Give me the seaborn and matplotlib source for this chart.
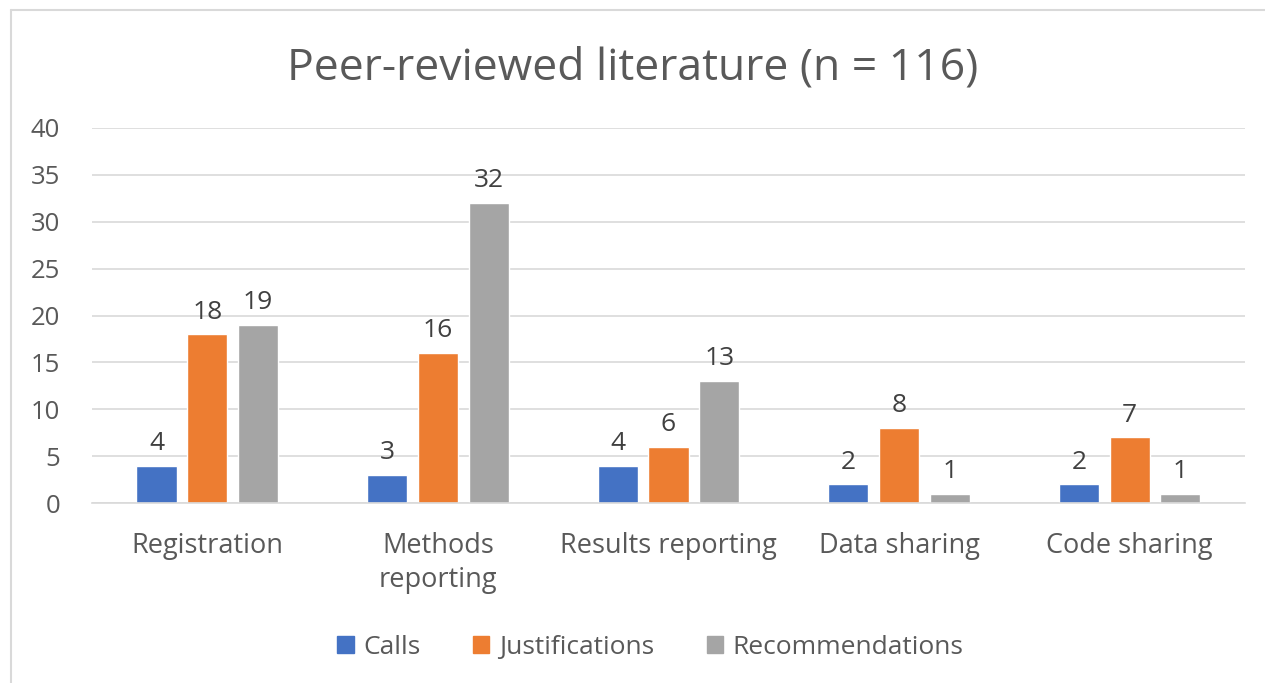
import pandas as pd
import seaborn as sns
from matplotlib import pyplot as plt
from matplotlib.lines import Line2D

categories = ['Registration', 'Methods\nreporting', 'Results reporting', 'Data sharing', 'Code sharing']
series = ['Calls', 'Justifications', 'Recommendations']
calls = [4, 3, 4, 2, 2]
justifications = [18, 16, 6, 8, 7]
recommendations = [19, 32, 13, 1, 1]
colors = ['#4472C4', '#ED7D31', '#A5A5A5']

df = pd.DataFrame({
    'Category': categories * 3,
    'Type': [s for s in series for _ in categories],
    'Count': calls + justifications + recommendations,
})

sns.set_style('white')
plt.rcParams['font.family'] = ['Open Sans', 'DejaVu Sans']

fig = plt.figure(figsize=(12.65, 6.83), dpi=100)
ax = fig.add_axes([0.0727, 0.2635, 0.9115, 0.5491])

sns.barplot(data=df, x='Category', y='Count', hue='Type', order=categories,
            hue_order=series, palette=colors, width=0.66, gap=0.21,
            saturation=1, ax=ax, legend=False)

for cont in ax.containers:
    ax.bar_label(cont, padding=7, fontsize=19, color='#404040')

ax.set_ylim(0, 40)
ax.set_xlim(-0.5, 4.5)
ax.set_yticks(range(0, 41, 5))
ax.yaxis.grid(True, color='#D9D9D9', linewidth=1.2)
ax.set_axisbelow(True)
for s in ['top', 'right', 'left']:
    ax.spines[s].set_visible(False)
ax.spines['bottom'].set_color('#D9D9D9')
ax.spines['bottom'].set_linewidth(1.2)
ax.set_xlabel('')
ax.set_ylabel('')
ax.tick_params(axis='y', labelsize=18.5, labelcolor='#595959', length=0, pad=23)
ax.tick_params(axis='x', labelsize=19.5, labelcolor='#595959', length=0, pad=21)
for lbl in ax.get_xticklabels():
    lbl.set_linespacing(1.3)

fig.text(0.5, 0.9, 'Peer-reviewed literature (n = 116)', ha='center', va='center',
         fontsize=32, color='#595959')

handles = [plt.Rectangle((0, 0), 1, 1, color=c) for c in colors]
fig.legend(handles, series, loc='center', bbox_to_anchor=(0.514, 0.052), ncol=3,
           frameon=False, fontsize=19, labelcolor='#595959', handlelength=0.62,
           handleheight=0.62, handletextpad=0.35, columnspacing=2.0)

fig.add_artist(Line2D([11 / 1265, 1], [1 - 10 / 683, 1 - 10 / 683], color='#D9D9D9', linewidth=1.5))
fig.add_artist(Line2D([11 / 1265, 11 / 1265], [0, 1 - 10 / 683], color='#D9D9D9', linewidth=1.5))

fig.savefig('out.png', dpi=100)
